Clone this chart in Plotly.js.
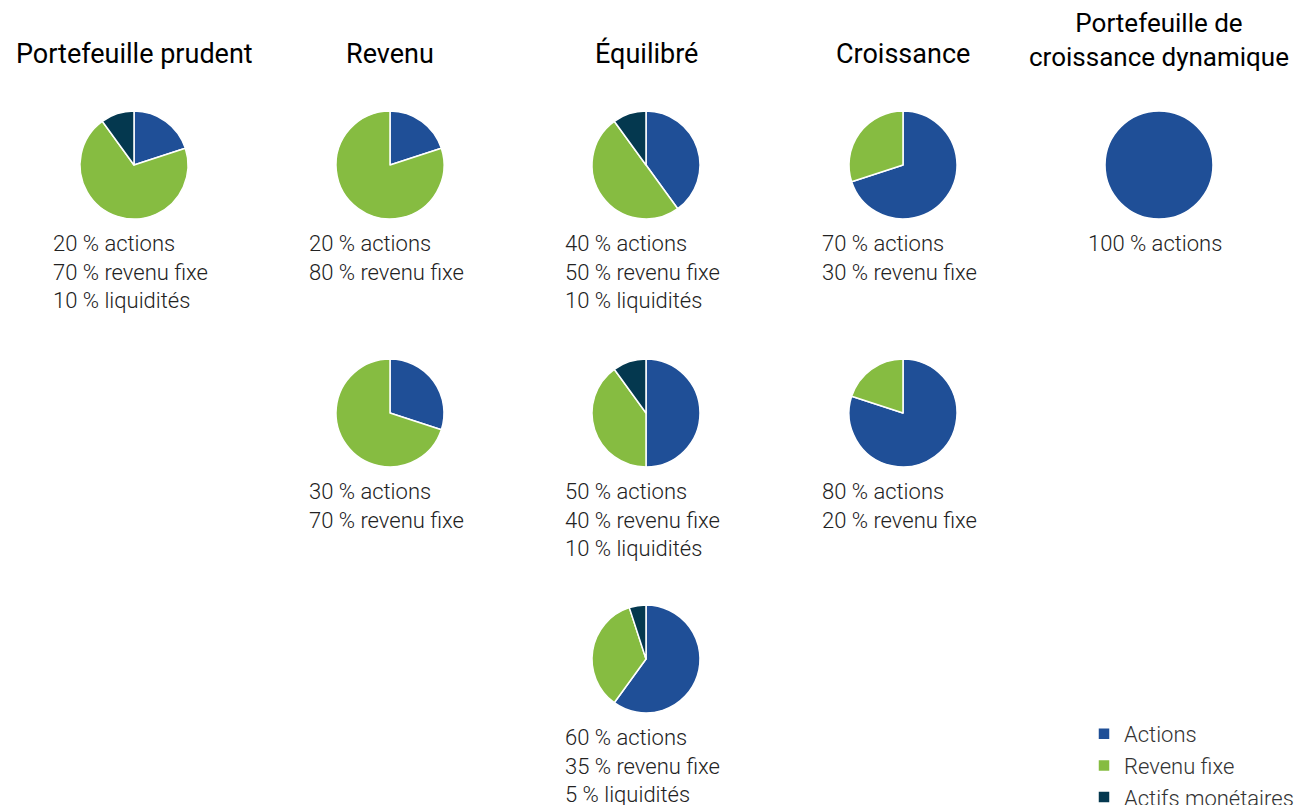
<!DOCTYPE html>
<html><head><meta charset="utf-8">
<script src="https://cdn.plot.ly/plotly-3.0.1.min.js"></script>
<style>html,body{margin:0;padding:0;background:#fff;}#chart{width:1309px;height:805px;}</style>
</head><body><div id="chart"></div>
<script>
// ---- data ----
const columnTitles = ['Portefeuille prudent', 'Revenu', 'Équilibré', 'Croissance', 'Portefeuille de<br>croissance dynamique'];
const sliceLabels = ['Actions', 'Revenu fixe', 'Actifs monétaires'];
const textLabels = ['actions', 'revenu fixe', 'liquidités'];
const pieColumn = [0, 1, 1, 2, 2, 2, 3, 3, 4];
const pieRow    = [0, 0, 1, 0, 1, 2, 0, 1, 0];
const actions   = [20, 20, 30, 40, 50, 60, 70, 80, 100];
const fixedInc  = [70, 80, 70, 50, 40, 35, 30, 20, 0];
const cash      = [10, 0, 0, 10, 10, 5, 0, 0, 0];

// ---- layout geometry ----
const W = 1309, H = 805;
const colX = [134, 390, 646, 903, 1159];
const rowY = [165, 413, 659];
const R = 54;
const colors = ['#1f4f97', '#86bc41', '#04384f'];
const fontFam = 'Roboto, "Noto Sans", sans-serif';

const traces = [];
const annotations = [];
for (let i = 0; i < actions.length; i++) {
  const cx = colX[pieColumn[i]], cy = rowY[pieRow[i]];
  const vals = [actions[i], fixedInc[i], cash[i]];
  traces.push({
    type: 'pie',
    values: vals,
    labels: sliceLabels,
    sort: false,
    direction: 'clockwise',
    rotation: 0,
    textinfo: 'none',
    hoverinfo: 'label+percent',
    marker: {colors: colors, line: {color: '#ffffff', width: vals.map(v => v > 0 ? 1.5 : 0)}},
    domain: {x: [(cx - R) / W, (cx + R) / W], y: [1 - (cy + R) / H, 1 - (cy - R) / H]},
    showlegend: i === 0
  });
  const lines = [];
  vals.forEach((v, k) => { if (v > 0) lines.push(v + ' % ' + textLabels[k]); });
  annotations.push({
    xref: 'paper', yref: 'paper', x: (cx - 4) / W, y: 1 - (cy + R + 10) / H,
    xanchor: 'center', yanchor: 'top', align: 'left', showarrow: false,
    text: lines.join('<br>'),
    font: {family: fontFam, size: 22, color: '#222222', weight: 300}
  });
}
columnTitles.forEach((t, c) => {
  const twoLine = t.indexOf('<br>') >= 0;
  annotations.push({
    xref: 'paper', yref: 'paper', x: colX[c] / W, y: 1 - (twoLine ? 40 : 54) / H,
    xanchor: 'center', yanchor: 'middle', showarrow: false, align: 'center',
    text: t, font: {family: fontFam, size: twoLine ? 26 : 27, color: '#000000', weight: 400}
  });
});

const layout = {
  width: W, height: H,
  margin: {l: 0, r: 0, t: 0, b: 0, autoexpand: false},
  paper_bgcolor: '#ffffff',
  showlegend: true,
  legend: {
    x: 1084 / W, y: 1 - 713 / H, xanchor: 'left', yanchor: 'top',
    font: {family: fontFam, size: 22, color: '#333333', weight: 300},
    traceorder: 'normal', itemwidth: 30, bgcolor: 'rgba(0,0,0,0)'
  },
  annotations: annotations
};
Plotly.newPlot('chart', traces, layout, {displayModeBar: false, staticPlot: true});
</script></body></html>
